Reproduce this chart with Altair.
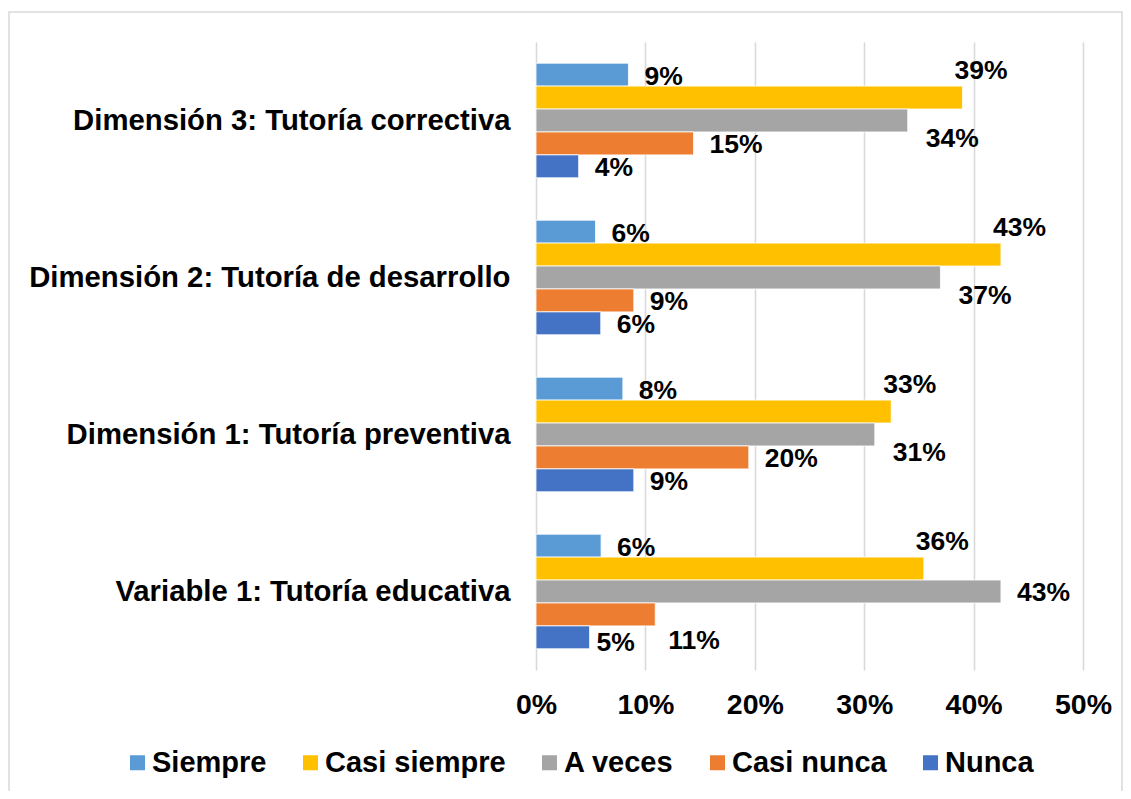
import altair as alt
import pandas as pd

categorias = [
    "Dimensión 3: Tutoría correctiva",
    "Dimensión 2: Tutoría de desarrollo",
    "Dimensión 1: Tutoría preventiva",
    "Variable 1: Tutoría educativa",
]
series = ["Siempre", "Casi siempre", "A veces", "Casi nunca", "Nunca"]
colores = ["#5B9BD5", "#FFC000", "#A5A5A5", "#ED7D31", "#4472C4"]

siempre = [8.45, 5.44, 7.94, 5.95]
casi_siempre = [38.99, 42.5, 32.47, 35.45]
a_veces = [33.98, 36.97, 30.97, 42.5]
casi_nunca = [14.4, 8.94, 19.45, 10.9]
nunca = [3.9, 5.92, 8.94, 4.9]

et_siempre = ["9%", "6%", "8%", "6%"]
et_casi_siempre = ["39%", "43%", "33%", "36%"]
et_a_veces = ["34%", "37%", "31%", "43%"]
et_casi_nunca = ["15%", "9%", "20%", "11%"]
et_nunca = ["4%", "6%", "9%", "5%"]

ticks = [0, 10, 20, 30, 40, 50]

valores = [siempre, casi_siempre, a_veces, casi_nunca, nunca]
etiquetas = [et_siempre, et_casi_siempre, et_a_veces, et_casi_nunca, et_nunca]

rows = []
for s, vals, labs in zip(series, valores, etiquetas):
    for c, v, l in zip(categorias, vals, labs):
        rows.append({"categoria": c, "serie": s, "valor": v, "etiqueta": l})
df = pd.DataFrame(rows)

FONT = "Liberation Sans"
VAR1 = categorias[3]

y_enc = alt.Y(
    "categoria:N",
    sort=categorias,
    scale=alt.Scale(paddingInner=0.27, paddingOuter=0.135),
    axis=alt.Axis(
        title=None, ticks=False, domain=False, labelFont=FONT, labelFontSize=29.3,
        labelFontWeight="bold", labelColor="#000000", labelPadding=26, labelLimit=600,
    ),
)
yoff_enc = alt.YOffset("serie:N", sort=series, scale=alt.Scale(paddingInner=0, paddingOuter=0))
x_enc = alt.X(
    "valor:Q",
    scale=alt.Scale(domain=[0, 50], nice=False),
    axis=alt.Axis(
        title=None, values=ticks, labelExpr="datum.value + '%'", ticks=False, domain=False,
        grid=True, gridColor="#D9D9D9", gridWidth=1.6, labelFont=FONT, labelFontSize=28.5,
        labelFontWeight="bold", labelColor="#000000", labelPadding=20, labelFlush=False,
        labelOverlap=False,
    ),
)

base = alt.Chart(df)

bars = base.mark_bar(stroke="white", strokeWidth=0.8).encode(
    y=y_enc,
    yOffset=yoff_enc,
    x=x_enc,
    color=alt.Color(
        "serie:N",
        sort=series,
        scale=alt.Scale(domain=series, range=colores),
        legend=alt.Legend(
            title=None, orient="none", legendX=-413, legendY=706, direction="horizontal",
            symbolType="square", symbolSize=225, symbolStrokeWidth=0, labelFont=FONT,
            labelFontSize=29, labelFontWeight="bold", labelColor="#000000",
            labelOffset=0, columnPadding=29, columns=5, labelLimit=500,
        ),
    ),
)

def label_layer(serie, dx, dy, only_var1=None):
    cond = alt.datum.serie == serie
    if only_var1 is True:
        cond = cond & (alt.datum.categoria == VAR1)
    elif only_var1 is False:
        cond = cond & (alt.datum.categoria != VAR1)
    return base.transform_filter(cond).mark_text(
        align="left", baseline="middle", dx=dx, dy=dy, font=FONT, fontSize=26.5,
        fontWeight="bold", color="#000000",
    ).encode(
        y=alt.Y("categoria:N", sort=categorias),
        yOffset=alt.YOffset("serie:N", sort=series),
        x=alt.X("valor:Q"),
        text="etiqueta:N",
    )

labels = [
    label_layer("Siempre", 16, 2),
    label_layer("Casi siempre", -8, -27),
    label_layer("A veces", 18, 18, only_var1=False),
    label_layer("A veces", 16, 1, only_var1=True),
    label_layer("Casi nunca", 16, 2, only_var1=False),
    label_layer("Casi nunca", 13, 27, only_var1=True),
    label_layer("Nunca", 16, 2, only_var1=False),
    label_layer("Nunca", 7, 6, only_var1=True),
]

border = alt.Chart(alt.Data(values=[{"b": 1}])).mark_rect(
    fill="transparent", stroke="#D9D9D9", strokeWidth=1.5
).encode(
    x=alt.value(-527), x2=alt.value(586), y=alt.value(-30), y2=alt.value(790)
)

chart = alt.layer(border, bars, *labels).properties(
    width=547,
    height=628,
    autosize="none",
    padding={"left": 528, "top": 34, "right": 40, "bottom": 121},
    background="white",
).configure_view(stroke=None)

chart.save("out.html", embed_options={"renderer": "svg", "actions": False})
